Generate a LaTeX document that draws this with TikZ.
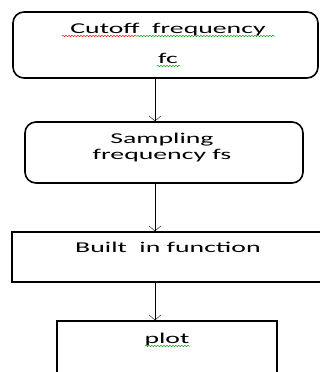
\documentclass[tikz,border=0pt]{standalone}
\usepackage{fontspec}
\newfontfamily\boxfont[FakeStretch=1.85]{Carlito}
\usetikzlibrary{arrows.meta, positioning, decorations.pathmorphing}

\begin{document}
\begin{tikzpicture}[
  x=1pt, y=-1pt,
  box/.style={draw, line width=1.6pt, inner sep=0pt},
  rbox/.style={box, rounded corners=11pt},
  txt/.style={anchor=base, inner sep=0pt, font=\boxfont\fontsize{15}{18}\selectfont},
  edge/.style={-{Straight Barb[length=5pt, width=12pt]}, thin},
  squig/.style={decorate, decoration={snake, segment length=3pt, amplitude=0.6pt}, line width=0.5pt}
]
\useasboundingbox (0,0) rectangle (320,372);
\clip (0,0) rectangle (320,372);

\node[rbox, minimum width=305pt, minimum height=66pt] (cutoff) at (165.5,45) {};
\node[rbox, minimum width=278pt, minimum height=61pt] (sampling) at (164,152.5) {};
\node[box, minimum width=323pt, minimum height=50pt] (builtin) at (173.5,257) {};
\node[box, minimum width=220pt, minimum height=70pt] (plot) at (167,356) {};

\node[txt] (cutoffA) at (168,33) {Cutoff\ \ frequency};
\node[txt] (cutoffB) at (168,63) {fc};
\node[txt] (samplingA) at (162,143) {Sampling};
\node[txt] (samplingB) at (162,159) {frequency fs};
\node[txt] (builtinA) at (168,252) {Built\ \ in function};
\node[txt] (plotA) at (167,343) {plot};

% spell-check marks
\draw[squig, red] (62,36) -- (137,36);
\draw[squig, green!60!black] (137,36) -- (275,36);
\draw[squig, green!60!black] (157,66) -- (180,66);
\draw[squig, green!60!black] (145,346) -- (190,346);

\coordinate (spine) at (155,0);
\draw[edge] (cutoff.south -| spine) -- (sampling.north -| spine);
\draw[edge] (sampling.south -| spine) -- (builtin.north -| spine);
\draw[edge] (builtin.south -| spine) -- (plot.north -| spine);
\end{tikzpicture}
\end{document}
